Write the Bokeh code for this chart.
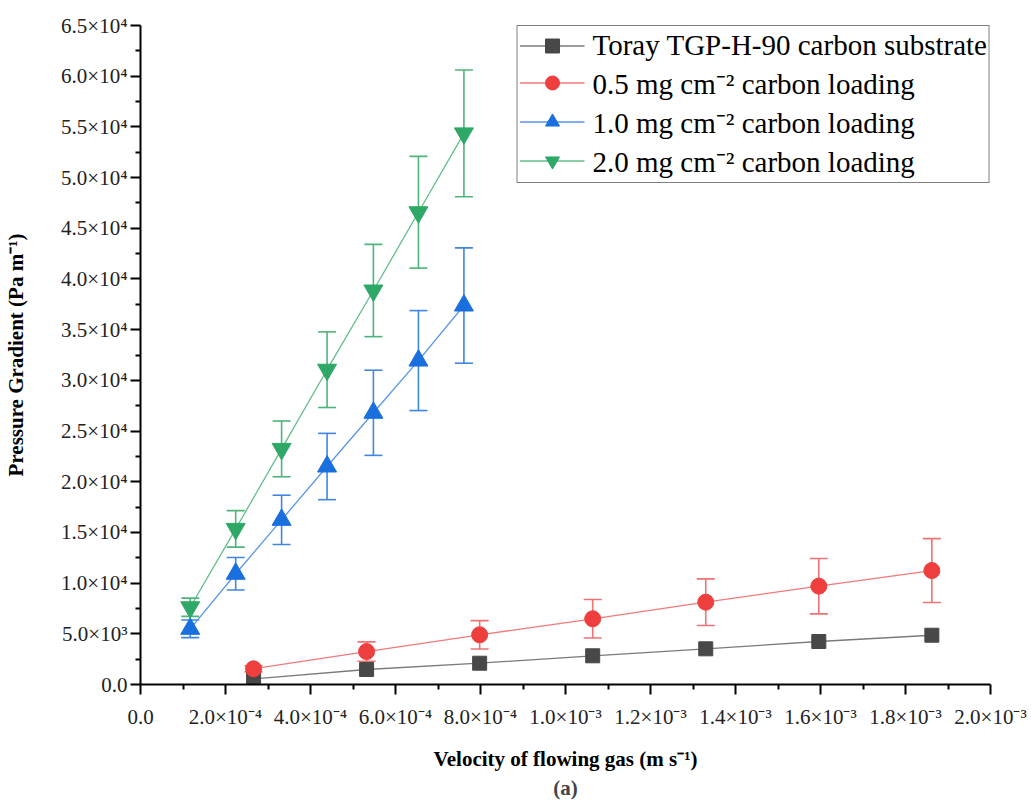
from bokeh.plotting import figure
from bokeh.models import (ColumnDataSource, Whisker, TeeHead, FixedTicker, Legend,
                          LegendItem, Title, Range1d)
from bokeh.embed import file_html
from bokeh.resources import INLINE

# ---------------- data ----------------
x_low = [2.66e-4, 5.32e-4, 7.98e-4, 1.064e-3, 1.33e-3, 1.596e-3, 1.862e-3]
y_substrate = [550, 1480, 2100, 2830, 3520, 4240, 4860]
y_05 = [1550, 3250, 4900, 6480, 8120, 9700, 11240]
err_05 = [300, 950, 1400, 1900, 2300, 2730, 3150]

x_high = [1.17e-4, 2.24e-4, 3.32e-4, 4.39e-4, 5.48e-4, 6.54e-4, 7.61e-4]
y_10 = [5490, 10920, 16240, 21500, 26800, 31950, 37380]
err_10 = [870, 1600, 2430, 3270, 4200, 4930, 5690]
y_20 = [7620, 15350, 23240, 31050, 38860, 46580, 54360]
err_20 = [900, 1800, 2750, 3730, 4550, 5510, 6250]

series_names = ["Toray TGP-H-90 carbon substrate",
                "0.5 mg cm\u207b\u00b2 carbon loading",
                "1.0 mg cm\u207b\u00b2 carbon loading",
                "2.0 mg cm\u207b\u00b2 carbon loading"]

x_ticks = [0.0, 0.0002, 0.0004, 0.0006, 0.0008, 0.001, 0.0012, 0.0014, 0.0016, 0.0018, 0.002]
x_tick_labels = ["0.0", "2.0\u00d710\u207b\u2074", "4.0\u00d710\u207b\u2074", "6.0\u00d710\u207b\u2074",
                 "8.0\u00d710\u207b\u2074", "1.0\u00d710\u207b\u00b3", "1.2\u00d710\u207b\u00b3",
                 "1.4\u00d710\u207b\u00b3", "1.6\u00d710\u207b\u00b3", "1.8\u00d710\u207b\u00b3",
                 "2.0\u00d710\u207b\u00b3"]
x_minor = [0.0001, 0.0003, 0.0005, 0.0007, 0.0009, 0.0011, 0.0013, 0.0015, 0.0017, 0.0019]

y_ticks = [0, 5000, 10000, 15000, 20000, 25000, 30000, 35000, 40000, 45000, 50000, 55000, 60000, 65000]
y_tick_labels = ["0.0", "5.0\u00d710\u00b3", "1.0\u00d710\u2074", "1.5\u00d710\u2074", "2.0\u00d710\u2074",
                 "2.5\u00d710\u2074", "3.0\u00d710\u2074", "3.5\u00d710\u2074", "4.0\u00d710\u2074",
                 "4.5\u00d710\u2074", "5.0\u00d710\u2074", "5.5\u00d710\u2074", "6.0\u00d710\u2074",
                 "6.5\u00d710\u2074"]
y_minor = [2500, 7500, 12500, 17500, 22500, 27500, 32500, 37500, 42500, 47500, 52500, 57500, 62500]

FONT = "Liberation Serif"

p = figure(width=1031, height=800, output_backend="svg", toolbar_location=None,
           x_range=Range1d(0, 0.002), y_range=Range1d(0, 65000),
           min_border_left=140, min_border_right=41, min_border_top=25, min_border_bottom=116)
p.outline_line_color = None
p.xgrid.grid_line_color = None
p.ygrid.grid_line_color = None
p.background_fill_color = "white"
p.border_fill_color = "white"

for ax in (p.xaxis[0], p.yaxis[0]):
    ax.axis_line_width = 2
    ax.axis_line_color = "black"
    ax.major_tick_line_width = 2
    ax.minor_tick_line_width = 2
    ax.major_tick_out = 10
    ax.major_tick_in = 0
    ax.minor_tick_out = 5
    ax.minor_tick_in = 0
    ax.major_label_text_font = FONT
    ax.major_label_text_font_size = "21px"
    ax.major_label_text_color = "#222222"
    ax.axis_label_text_font = FONT
    ax.axis_label_text_font_style = "bold"
    ax.axis_label_text_font_size = "21px"
    ax.axis_label_text_color = "black"

p.xaxis[0].ticker = FixedTicker(ticks=x_ticks, minor_ticks=x_minor)
p.xaxis[0].major_label_overrides = {t: l for t, l in zip(x_ticks, x_tick_labels)}
p.xaxis[0].major_label_standoff = 10
p.xaxis[0].axis_label = "Velocity of flowing gas (m s\u207b\u00b9)"
p.xaxis[0].axis_label_standoff = 15

p.yaxis[0].ticker = FixedTicker(ticks=y_ticks, minor_ticks=y_minor)
p.yaxis[0].major_label_overrides = {t: l for t, l in zip(y_ticks, y_tick_labels)}
p.yaxis[0].major_label_standoff = 3
p.yaxis[0].axis_label = "Pressure Gradient (Pa m\u207b\u00b9)"
p.yaxis[0].axis_label_standoff = 30

p.add_layout(Title(text="(a)", align="center", text_font=FONT, text_font_style="bold",
                   text_font_size="21px", standoff=0), "below")

styles = [
    dict(x=x_low, y=y_substrate, err=None, marker="square", size=14,
         color="#484848", line="#7a7a7a", ecolor="#7a7a7a"),
    dict(x=x_low, y=y_05, err=err_05, marker="circle", size=16,
         color="#ef3e3e", line="#f27a7a", ecolor="#f07272"),
    dict(x=x_high, y=y_10, err=err_10, marker="triangle", size=19,
         color="#1a6fde", line="#5a95e6", ecolor="#3f86e4"),
    dict(x=x_high, y=y_20, err=err_20, marker="inverted_triangle", size=19,
         color="#2ea866", line="#62be8c", ecolor="#4db47c"),
]

items = []
for name, s in zip(series_names, styles):
    data = dict(x=s["x"], y=s["y"])
    if s["err"] is not None:
        data["upper"] = [v + e for v, e in zip(s["y"], s["err"])]
        data["lower"] = [v - e for v, e in zip(s["y"], s["err"])]
    src = ColumnDataSource(data)
    lr = p.line("x", "y", source=src, line_color=s["line"], line_width=1.3)
    if s["err"] is not None:
        w = Whisker(base="x", upper="upper", lower="lower", source=src,
                    line_color=s["ecolor"], line_width=1.6,
                    upper_head=TeeHead(size=18, line_color=s["ecolor"], line_width=1.6),
                    lower_head=TeeHead(size=18, line_color=s["ecolor"], line_width=1.6))
        p.add_layout(w)
    sr = p.scatter("x", "y", source=src, marker=s["marker"], size=s["size"],
                   fill_color=s["color"], line_color=s["color"])
    items.append(LegendItem(label=name, renderers=[lr, sr]))

legend = Legend(items=items, location="top_right", margin=0, padding=2, spacing=0,
                glyph_width=65, glyph_height=35, label_height=35, label_standoff=8,
                label_text_font=FONT, label_text_font_size="29px", label_text_color="black",
                label_text_line_height=1.0,
                border_line_color="black", border_line_width=1.5, background_fill_alpha=1)
p.add_layout(legend)

open("out.html", "w").write(file_html(p, INLINE))
